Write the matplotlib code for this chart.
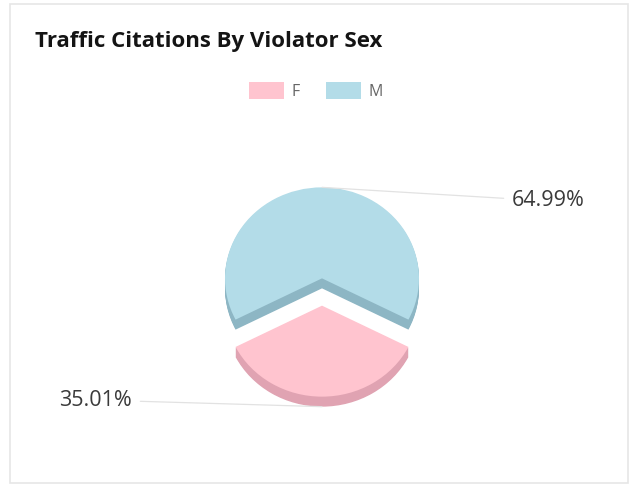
import matplotlib
matplotlib.use('Agg')
import numpy as np
import matplotlib.pyplot as plt
from matplotlib.patches import Rectangle

# ---- data ----
categories = ['F', 'M']
values = [35.01, 64.99]
title = 'Traffic Citations By Violator Sex'

# ---- style ----
top_colors = ['#FFC4CF', '#B3DCE8']
side_colors = ['#E0A3B2', '#8DB6C4']

W, H = 634, 487
fig = plt.figure(figsize=(W / 100, H / 100), dpi=100)
fig.patch.set_facecolor('white')

# card frame
fig.add_artist(Rectangle((10 / W, 4 / H), 618 / W, 479 / H, transform=fig.transFigure,
                         fill=False, edgecolor='#e6e6e6', lw=1.2))

fig.text(35 / W, 1 - 41 / H, title, fontsize=16, fontweight='bold', family='Open Sans',
         color='#141414', va='center', ha='left')

cx, cy = 322, 292
box = 300
ax = fig.add_axes([(cx - box / 2) / W, (H - cy - box / 2) / H, box / W, box / H])
rx, ry = 97, 91

explode = [0.15, 0.15]
depth = 0.11
total = sum(values)
start = 270 - values[0] / total * 180

steps = 10
for k in range(steps, 0, -1):
    ax.pie(values, colors=side_colors, explode=explode, startangle=start,
           center=(0, -depth * k / steps), radius=1, frame=True)
wedges, _ = ax.pie(values, colors=top_colors, explode=explode, startangle=start,
                   radius=1, frame=True)

ax.set_xlim(-box / 2 / rx, box / 2 / rx)
ax.set_ylim(-box / 2 / ry, box / 2 / ry)
ax.set_aspect('auto')
ax.axis('off')

label_pos = {'F': ((132, H - 400), 'right'), 'M': ((512, H - 201), 'left')}
for w, cat, v in zip(wedges, categories, values):
    mid = np.deg2rad((w.theta1 + w.theta2) / 2)
    c = w.center
    xy = (c[0] + np.cos(mid), c[1] + np.sin(mid) + (-depth if np.sin(mid) < 0 else 0))
    (tx, ty), ha = label_pos[cat]
    ax.annotate(f'{v:.2f}%', xy=xy, xycoords='data', xytext=(tx, ty),
                textcoords='figure pixels', ha=ha, va='center', fontsize=15.5,
                family='Open Sans', color='#3a3a3a',
                arrowprops=dict(arrowstyle='-', color='#e2e2e2', lw=0.9,
                                shrinkA=4, shrinkB=0))

leg = ax.legend(wedges, categories, loc='center', bbox_to_anchor=(316 / W, 1 - 91 / H),
                bbox_transform=fig.transFigure, ncol=2, frameon=False,
                handlelength=2.2, handleheight=1.2, handletextpad=0.5, columnspacing=1.6,
                prop={'family': 'Open Sans', 'size': 11.5}, labelcolor='#666666')

fig.savefig('out.png', dpi=100, facecolor='white')
